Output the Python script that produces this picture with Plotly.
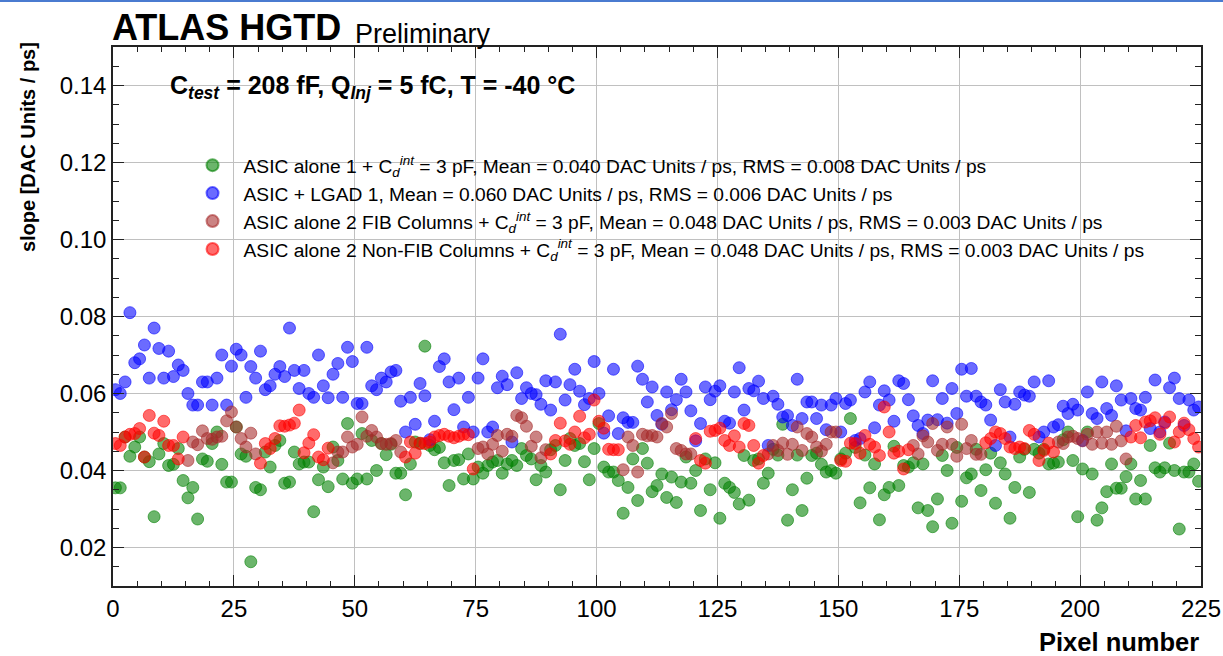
import numpy as np
import plotly.graph_objects as go

# 15 x 15 pixel matrix, read out column by column
n_pixels = 225
pixels_per_column = 15
fib_columns = [1, 3, 5, 7, 9, 11, 13]

# Slope per pixel [DAC Units / ps]
asic_alone_1 = [
    0.0355, 0.0355, 0.0487, 0.0437, 0.0461, 0.0487, 0.0435, 0.0423, 0.0280, 0.0443,
    0.0470, 0.0413, 0.0416, 0.0457, 0.0374, 0.0329, 0.0356, 0.0274, 0.0430, 0.0424,
    0.0470, 0.0500, 0.0416, 0.0370, 0.0370, 0.0513, 0.0443, 0.0437, 0.0163, 0.0356,
    0.0350, 0.0448, 0.0409, 0.0465, 0.0478, 0.0367, 0.0370, 0.0448, 0.0417, 0.0422,
    0.0422, 0.0293, 0.0376, 0.0409, 0.0358, 0.0461, 0.0426, 0.0378, 0.0522, 0.0367,
    0.0378, 0.0496, 0.0378, 0.0478, 0.0400, 0.0470, 0.0441, 0.0468, 0.0393, 0.0393,
    0.0337, 0.0417, 0.0474, 0.0470, 0.0723, 0.0465, 0.0454, 0.0460, 0.0420, 0.0361,
    0.0426, 0.0428, 0.0378, 0.0443, 0.0378, 0.0409, 0.0393, 0.0413, 0.0422, 0.0426,
    0.0393, 0.0417, 0.0426, 0.0413, 0.0457, 0.0439, 0.0430, 0.0376, 0.0413, 0.0396,
    0.0454, 0.0465, 0.0350, 0.0426, 0.0483, 0.0465, 0.0470, 0.0423, 0.0376, 0.0457,
    0.0522, 0.0409, 0.0396, 0.0396, 0.0374, 0.0289, 0.0356, 0.0430, 0.0322, 0.0457,
    0.0419, 0.0345, 0.0361, 0.0391, 0.0330, 0.0383, 0.0317, 0.0370, 0.0435, 0.0367,
    0.0400, 0.0296, 0.0430, 0.0350, 0.0420, 0.0276, 0.0367, 0.0356, 0.0343, 0.0313,
    0.0439, 0.0323, 0.0426, 0.0430, 0.0367, 0.0393, 0.0455, 0.0440, 0.0520, 0.0271,
    0.0350, 0.0440, 0.0296, 0.0380, 0.0439, 0.0445, 0.0416, 0.0396, 0.0400, 0.0393,
    0.0430, 0.0445, 0.0535, 0.0460, 0.0316, 0.0440, 0.0355, 0.0417, 0.0272, 0.0337,
    0.0356, 0.0463, 0.0361, 0.0413, 0.0409, 0.0420, 0.0303, 0.0417, 0.0296, 0.0254,
    0.0326, 0.0439, 0.0400, 0.0263, 0.0460, 0.0320, 0.0381, 0.0391, 0.0455, 0.0348,
    0.0402, 0.0445, 0.0315, 0.0420, 0.0391, 0.0276, 0.0356, 0.0435, 0.0455, 0.0343,
    0.0455, 0.0445, 0.0455, 0.0417, 0.0419, 0.0422, 0.0480, 0.0500, 0.0426, 0.0280,
    0.0404, 0.0500, 0.0391, 0.0271, 0.0303, 0.0345, 0.0417, 0.0354, 0.0354, 0.0384,
    0.0417, 0.0326, 0.0374, 0.0326, 0.0465, 0.0407, 0.0396, 0.0407, 0.0471, 0.0400,
    0.0248, 0.0396, 0.0396, 0.0417, 0.0372,
]

asic_lgad_1 = [
    0.0610, 0.0600, 0.0630, 0.0810, 0.0680, 0.0690, 0.0726, 0.0640, 0.0770, 0.0717,
    0.0640, 0.0710, 0.0644, 0.0674, 0.0660, 0.0600, 0.0570, 0.0570, 0.0630, 0.0630,
    0.0570, 0.0640, 0.0700, 0.0570, 0.0671, 0.0715, 0.0700, 0.0590, 0.0670, 0.0640,
    0.0710, 0.0610, 0.0620, 0.0650, 0.0670, 0.0644, 0.0770, 0.0660, 0.0613, 0.0660,
    0.0600, 0.0590, 0.0700, 0.0620, 0.0589, 0.0650, 0.0678, 0.0590, 0.0720, 0.0683,
    0.0574, 0.0574, 0.0720, 0.0620, 0.0610, 0.0640, 0.0630, 0.0656, 0.0660, 0.0580,
    0.0500, 0.0590, 0.0520, 0.0626, 0.0594, 0.0480, 0.0528, 0.0670, 0.0690, 0.0630,
    0.0558, 0.0640, 0.0513, 0.0590, 0.0500, 0.0640, 0.0690, 0.0500, 0.0513, 0.0615,
    0.0645, 0.0623, 0.0474, 0.0654, 0.0587, 0.0615, 0.0600, 0.0597, 0.0572, 0.0633,
    0.0557, 0.0630, 0.0754, 0.0583, 0.0623, 0.0663, 0.0606, 0.0571, 0.0587, 0.0683,
    0.0600, 0.0497, 0.0542, 0.0663, 0.0496, 0.0537, 0.0525, 0.0525, 0.0671, 0.0637,
    0.0578, 0.0617, 0.0543, 0.0520, 0.0604, 0.0558, 0.0584, 0.0637, 0.0604, 0.0555,
    0.0477, 0.0522, 0.0617, 0.0584, 0.0606, 0.0620, 0.0528, 0.0523, 0.0604, 0.0667,
    0.0557, 0.0613, 0.0607, 0.0632, 0.0587, 0.0465, 0.0593, 0.0572, 0.0539, 0.0543,
    0.0517, 0.0637, 0.0535, 0.0578, 0.0578, 0.0535, 0.0570, 0.0506, 0.0570, 0.0587,
    0.0500, 0.0574, 0.0583, 0.0478, 0.0483, 0.0604, 0.0630, 0.0511, 0.0570, 0.0607,
    0.0583, 0.0528, 0.0633, 0.0626, 0.0584, 0.0542, 0.0517, 0.0496, 0.0531, 0.0633,
    0.0532, 0.0587, 0.0523, 0.0613, 0.0548, 0.0663, 0.0593, 0.0665, 0.0593, 0.0578,
    0.0570, 0.0531, 0.0465, 0.0610, 0.0578, 0.0487, 0.0572, 0.0604, 0.0596, 0.0593,
    0.0630, 0.0487, 0.0500, 0.0633, 0.0513, 0.0519, 0.0567, 0.0548, 0.0572, 0.0557,
    0.0478, 0.0604, 0.0548, 0.0535, 0.0630, 0.0561, 0.0543, 0.0620, 0.0583, 0.0503,
    0.0587, 0.0561, 0.0557, 0.0590, 0.0509, 0.0635, 0.0500, 0.0526, 0.0615, 0.0640,
    0.0587, 0.0517, 0.0583, 0.0557, 0.0565,
]

asic_alone_2 = [
    0.0470, 0.0465, 0.0487, 0.0494, 0.0496, 0.0509, 0.0435, 0.0543, 0.0497, 0.0491,
    0.0528, 0.0465, 0.0465, 0.0430, 0.0487, 0.0426, 0.0474, 0.0467, 0.0503, 0.0483,
    0.0481, 0.0487, 0.0489, 0.0529, 0.0552, 0.0513, 0.0483, 0.0461, 0.0497, 0.0443,
    0.0419, 0.0470, 0.0457, 0.0483, 0.0516, 0.0515, 0.0518, 0.0523, 0.0557, 0.0446,
    0.0471, 0.0493, 0.0435, 0.0428, 0.0458, 0.0420, 0.0448, 0.0448, 0.0487, 0.0461,
    0.0468, 0.0539, 0.0489, 0.0504, 0.0487, 0.0470, 0.0468, 0.0470, 0.0478, 0.0448,
    0.0435, 0.0474, 0.0445, 0.0471, 0.0470, 0.0474, 0.0487, 0.0491, 0.0494, 0.0489,
    0.0485, 0.0489, 0.0494, 0.0493, 0.0404, 0.0457, 0.0461, 0.0443, 0.0468, 0.0491,
    0.0450, 0.0494, 0.0489, 0.0543, 0.0537, 0.0515, 0.0463, 0.0487, 0.0433, 0.0454,
    0.0443, 0.0478, 0.0523, 0.0477, 0.0468, 0.0500, 0.0541, 0.0485, 0.0494, 0.0583,
    0.0528, 0.0510, 0.0455, 0.0454, 0.0454, 0.0402, 0.0487, 0.0465, 0.0396, 0.0494,
    0.0490, 0.0491, 0.0487, 0.0522, 0.0513, 0.0548, 0.0457, 0.0452, 0.0443, 0.0443,
    0.0483, 0.0426, 0.0419, 0.0502, 0.0504, 0.0510, 0.0478, 0.0465, 0.0490, 0.0461,
    0.0522, 0.0517, 0.0465, 0.0419, 0.0439, 0.0443, 0.0465, 0.0452, 0.0471, 0.0442,
    0.0468, 0.0513, 0.0452, 0.0496, 0.0487, 0.0461, 0.0450, 0.0468, 0.0500, 0.0500,
    0.0426, 0.0424, 0.0471, 0.0470, 0.0445, 0.0491, 0.0468, 0.0461, 0.0439, 0.0565,
    0.0500, 0.0445, 0.0450, 0.0404, 0.0454, 0.0465, 0.0443, 0.0490, 0.0474, 0.0522,
    0.0452, 0.0468, 0.0513, 0.0468, 0.0437, 0.0520, 0.0457, 0.0478, 0.0442, 0.0442,
    0.0472, 0.0483, 0.0500, 0.0496, 0.0483, 0.0461, 0.0457, 0.0461, 0.0457, 0.0504,
    0.0494, 0.0426, 0.0452, 0.0471, 0.0448, 0.0474, 0.0470, 0.0487, 0.0489, 0.0483,
    0.0477, 0.0494, 0.0468, 0.0500, 0.0471, 0.0500, 0.0468, 0.0515, 0.0477, 0.0430,
    0.0487, 0.0517, 0.0485, 0.0526, 0.0529, 0.0537, 0.0494, 0.0523, 0.0539, 0.0474,
    0.0500, 0.0523, 0.0506, 0.0483, 0.0461,
]

cd = "C<sub><i>d</i></sub><sup><i>int</i></sup>"
labels = [
    f"ASIC alone 1 + {cd} = 3 pF, Mean = 0.040 DAC Units / ps, RMS = 0.008 DAC Units / ps",
    "ASIC + LGAD 1, Mean = 0.060 DAC Units / ps, RMS = 0.006 DAC Units / ps",
    f"ASIC alone 2 FIB Columns + {cd} = 3 pF, Mean = 0.048 DAC Units / ps, RMS = 0.003 DAC Units / ps",
    f"ASIC alone 2 Non-FIB Columns + {cd} = 3 pF, Mean = 0.048 DAC Units / ps, RMS = 0.003 DAC Units / ps",
]

pixel = np.arange(n_pixels)
x_centre = pixel + 0.5  # histogram bin centres
column = pixel // pixels_per_column
fib = np.isin(column, fib_columns)
alone_2 = np.array(asic_alone_2)

FONT = "Liberation Sans, Arial, sans-serif"
ALPHA = 0.58


def rgba(r, g, b, a=ALPHA):
    return f"rgba({r},{g},{b},{a})"


def scatter(x, y, name, rgb):
    return go.Scatter(
        x=x, y=y, mode="markers", name=name,
        marker=dict(size=12, color=rgba(*rgb),
                    line=dict(width=1, color=rgba(*rgb))),
    )


fig = go.Figure()
fig.add_trace(scatter(x_centre, asic_alone_1, labels[0], (0, 128, 0)))
fig.add_trace(scatter(x_centre, asic_lgad_1, labels[1], (0, 0, 255)))
fig.add_trace(scatter(x_centre[fib], alone_2[fib], labels[2], (165, 42, 42)))
fig.add_trace(scatter(x_centre[~fib], alone_2[~fib], labels[3], (255, 0, 0)))

axis_common = dict(
    ticks="inside", ticklen=11, tickwidth=1.2, tickcolor="#222",
    showline=True, linecolor="#222", linewidth=1.5, mirror="ticks",
    showgrid=True, gridcolor="#c0c0c0", gridwidth=1, zeroline=False,
    automargin=False,
    tickfont=dict(family=FONT, size=24, color="black"),
)

fig.update_xaxes(range=[0, 225], tick0=0, dtick=25,
                 minor=dict(dtick=5, ticks="inside", ticklen=5,
                            tickcolor="#222", showgrid=False),
                 **axis_common)
fig.update_yaxes(range=[0.01, 0.15], tick0=0, dtick=0.02, tickformat=".2f",
                 minor=dict(dtick=0.005, ticks="inside", ticklen=6,
                            tickcolor="#222", showgrid=False),
                 **axis_common)

fig.update_layout(
    width=1223, height=656,
    margin=dict(l=113, r=22, t=47, b=70),
    paper_bgcolor="white", plot_bgcolor="white",
    font=dict(family=FONT, color="black"),
    showlegend=True,
    legend=dict(x=0.063, y=0.816, xanchor="left", yanchor="top",
                bgcolor="rgba(0,0,0,0)", font=dict(family=FONT, size=19.2),
                tracegroupgap=0, itemsizing="constant", itemwidth=52),
    annotations=[
        dict(text="<b>ATLAS HGTD</b>", xref="paper", yref="paper",
             x=-0.003, y=1, xanchor="left", yanchor="bottom", yshift=-3,
             showarrow=False, font=dict(family=FONT, size=36)),
        dict(text="Preliminary", xref="paper", yref="paper",
             x=0.2206, y=1, xanchor="left", yanchor="bottom", yshift=-4,
             showarrow=False, font=dict(family=FONT, size=27)),
        dict(text="<b>C<sub><i>test</i></sub> = 208 fF, Q<sub><i>Inj</i></sub> = 5 fC, T = -40 °C</b>",
             xref="paper", yref="paper", x=0.0506, y=0.926,
             xanchor="left", yanchor="middle", showarrow=False,
             font=dict(family=FONT, size=25)),
        dict(text="<b>slope [DAC Units / ps]</b>", xref="paper", yref="paper",
             x=-0.078, y=0.8145, xanchor="center", yanchor="middle",
             textangle=-90, showarrow=False, font=dict(family=FONT, size=20)),
        dict(text="<b>Pixel number</b>", xref="paper", yref="paper",
             x=1.0, y=-0.104, xanchor="right", yanchor="middle",
             showarrow=False, font=dict(family=FONT, size=25.5)),
    ],
    shapes=[
        dict(type="line", xref="paper", yref="paper",
             x0=-0.11, x1=1.03, y0=1.0854, y1=1.0854,
             line=dict(color="#4a7bd0", width=2)),
    ],
)

fig.write_html("out.html")
